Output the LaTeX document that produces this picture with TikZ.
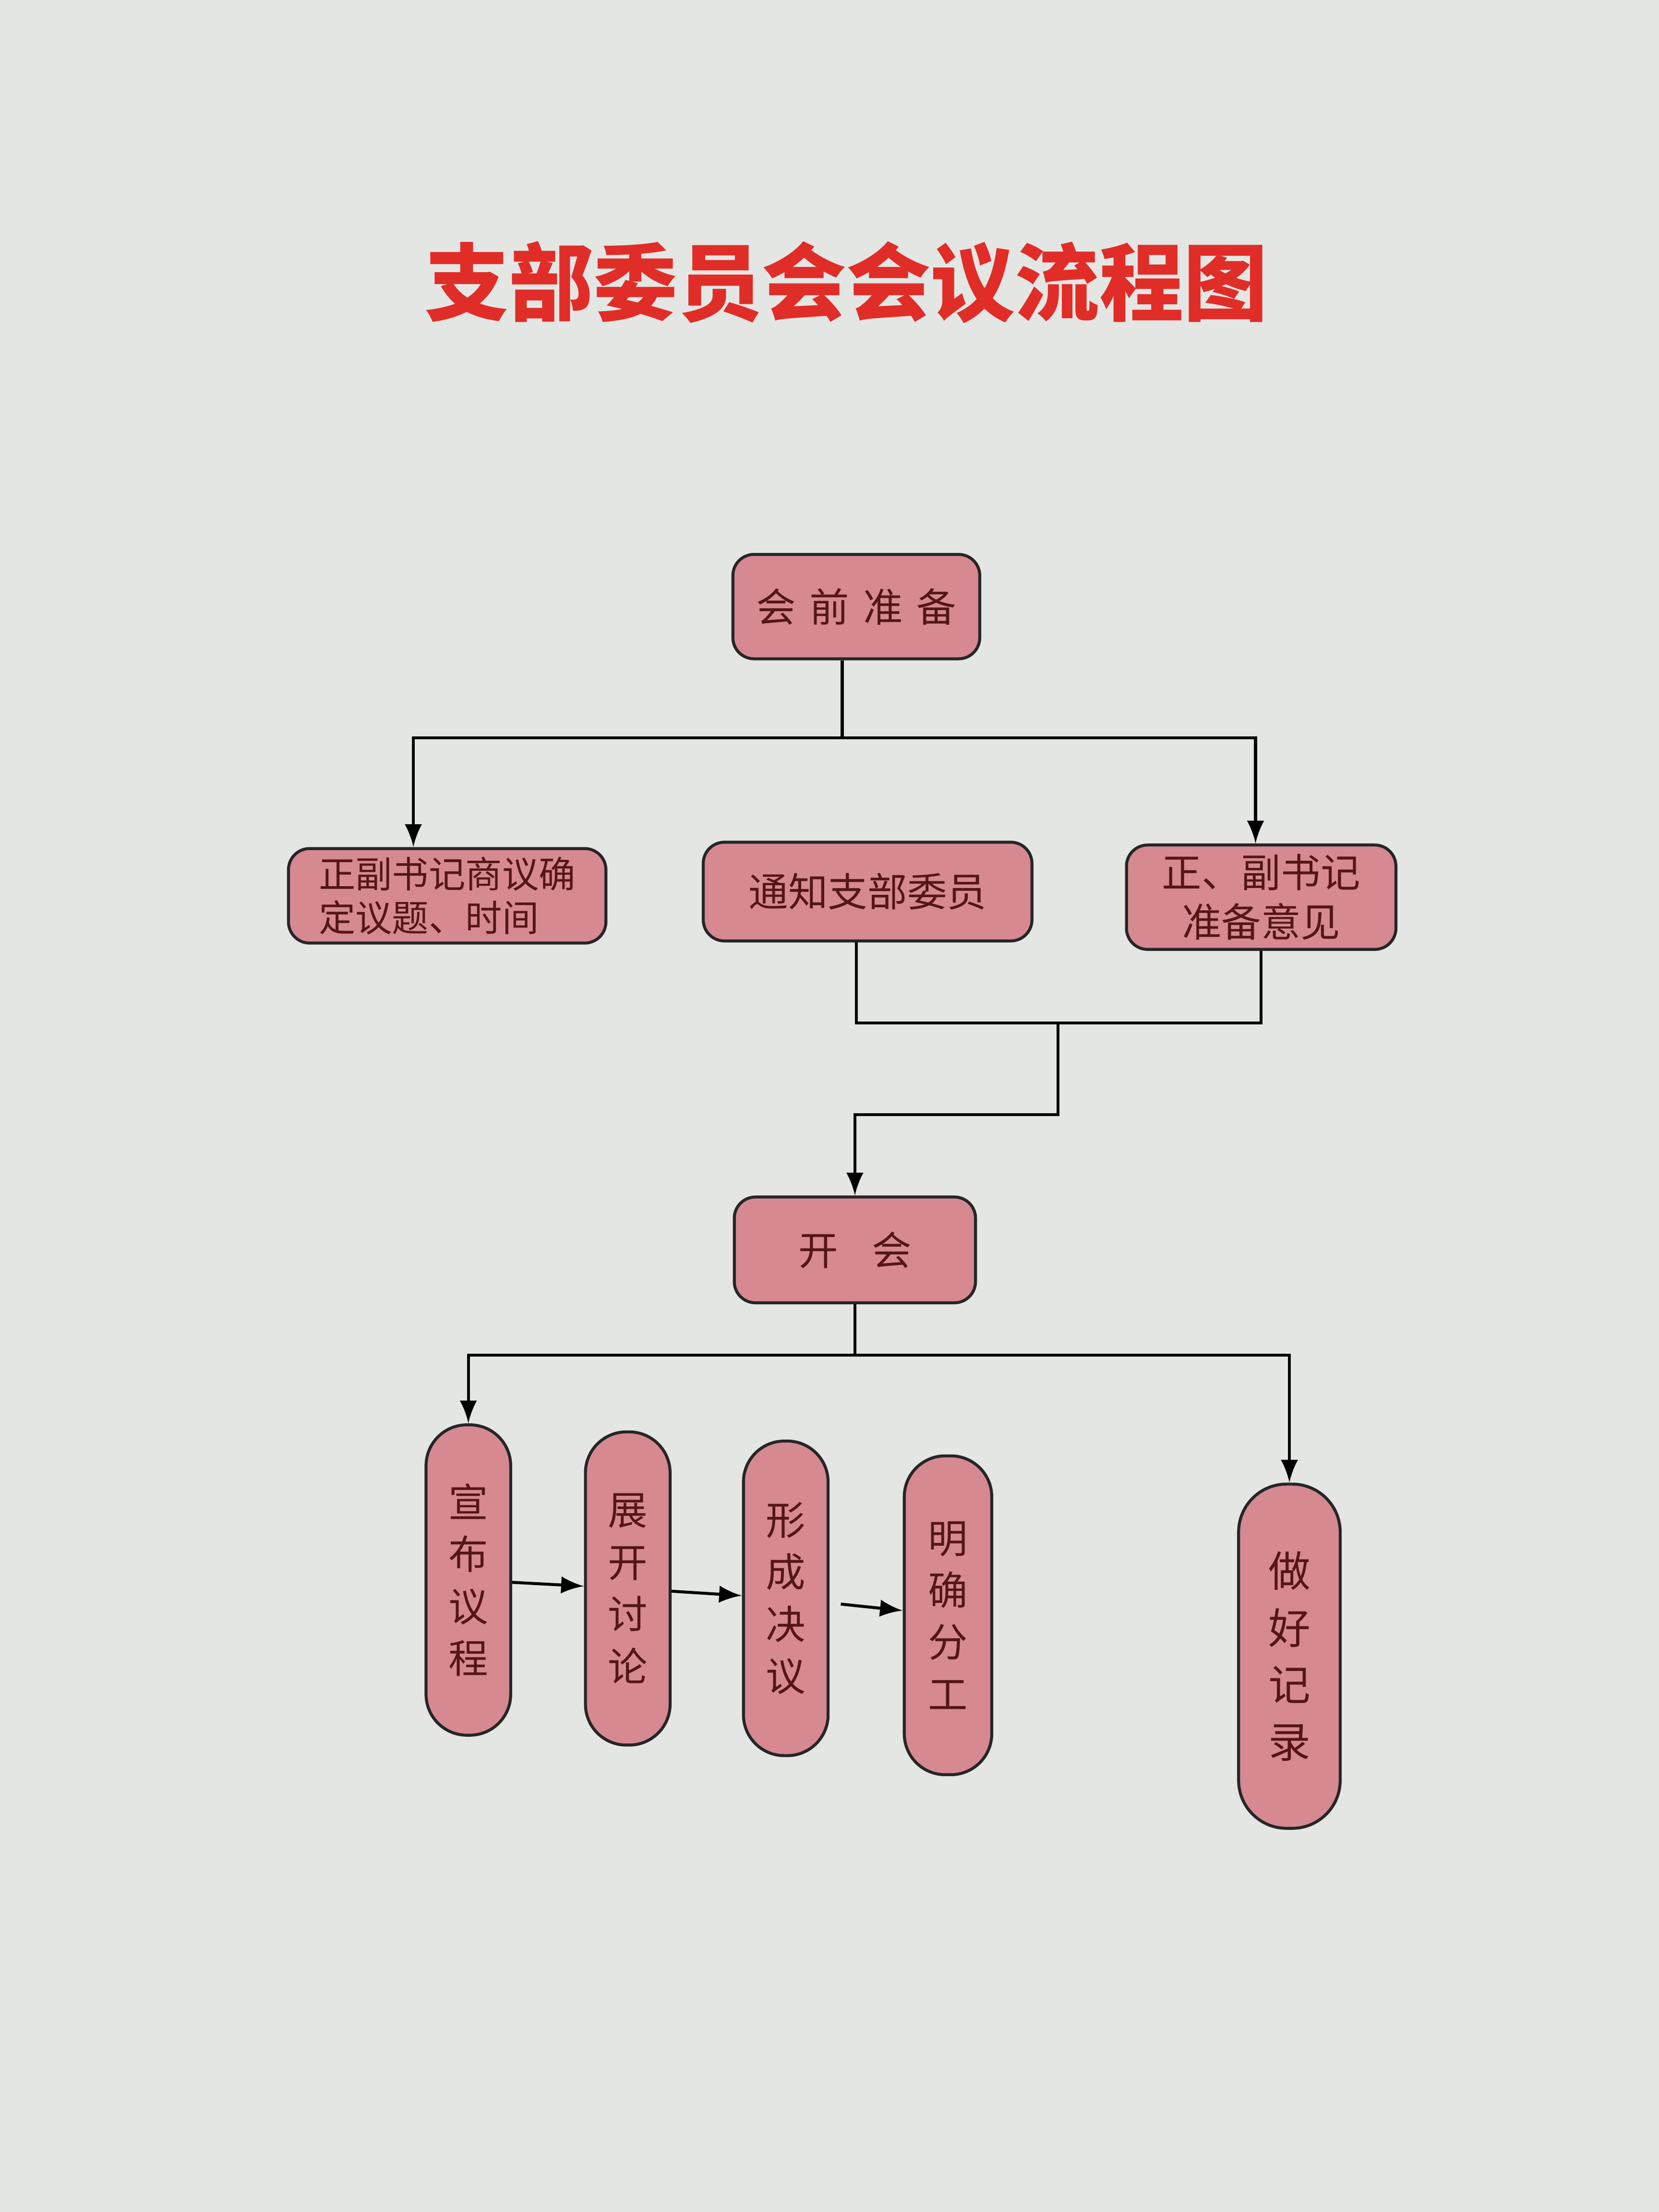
\documentclass[tikz,border=0pt]{standalone}
\usepackage{fontspec}
\usepackage{tikz}
\usetikzlibrary{calc}
\newfontfamily\cjk{Noto Sans CJK SC}
\definecolor{pagegray}{RGB}{228,230,228}
\definecolor{boxpink}{RGB}{214,137,145}
\definecolor{inkred}{RGB}{85,22,22}
\definecolor{titlered}{RGB}{225,45,40}
\begin{document}
\begin{tikzpicture}[>=latex, line width=0.6pt,
  font=\cjk\fontsize{8}{10.5}\selectfont,
  flowbox/.style={draw=black!85, fill=boxpink, rounded corners=1.5mm, text=inkred, inner sep=0pt},
  tallbox/.style={flowbox, rounded corners=2.9mm, minimum width=0.6cm, align=center}]
\fill[pagegray] (0,0) rectangle (11.76,-15.68); % page
\useasboundingbox (0,0) rectangle (11.76,-15.68);
\node[text=titlered, font=\cjk\bfseries\fontsize{17}{20}\selectfont] (title) at (6.0,-2.0) {支部委员会会议流程图};
% first level
\node[flowbox, minimum width=1.75cm, minimum height=0.74cm] (prep) at (6.07,-4.30) {会\hspace{0.35em}前\hspace{0.35em}准\hspace{0.35em}备};
\node[flowbox, minimum width=2.25cm, minimum height=0.67cm, align=left, font=\cjk\fontsize{7.4}{8.8}\selectfont] (agenda) at (3.17,-6.35) {正副书记商议确\\定议题、时间};
\node[flowbox, minimum width=2.33cm, minimum height=0.70cm] (notify) at (6.15,-6.32) {通知支部委员};
\node[flowbox, minimum width=1.91cm, minimum height=0.74cm, align=center, font=\cjk\fontsize{8}{10}\selectfont] (opinion) at (8.94,-6.36) {正、副书记\\准备意见};
\draw (prep.south) ++(-0.1,0) -- ++(0,-0.55) coordinate (bus1);
\draw[->] (bus1) -| ($(agenda.north)+(-0.24,0)$);
\draw[->] (bus1) -| ($(opinion.north)+(-0.04,0)$);
% meeting
\node[flowbox, minimum width=1.71cm, minimum height=0.75cm] (open) at (6.06,-8.86) {开\hspace{0.85em}会};
\coordinate (join) at (7.50,-7.25);
\draw ($(notify.south)+(-0.08,0)$) |- (join) -| (opinion.south);
\draw[->] (join) -- ++(0,-0.65) -| (open.north);
% second level
\node[tallbox, minimum height=2.20cm] (announce) at (3.32,-11.20) {宣\\布\\议\\程};
\node[tallbox, minimum height=2.22cm] (discuss) at (4.45,-11.26) {展\\开\\讨\\论};
\node[tallbox, minimum height=2.23cm] (resolve) at (5.57,-11.33) {形\\成\\决\\议};
\node[tallbox, minimum height=2.26cm, minimum width=0.62cm] (assign) at (6.72,-11.45) {明\\确\\分\\工};
\node[tallbox, minimum height=2.44cm, minimum width=0.72cm, rounded corners=3.4mm, font=\cjk\fontsize{8.5}{11.5}\selectfont] (record) at (9.14,-11.74) {做\\好\\记\\录};
\draw (open.south) -- ++(0,-0.36) coordinate (bus2);
\draw[->] (bus2) -| (announce.north);
\draw[->] (bus2) -| (record.north);
\draw[->] (announce) -- (discuss);
\draw[->] (discuss) -- (resolve);
\draw[->, shorten <=0.08cm] (resolve) -- (assign);
\end{tikzpicture}
\end{document}
